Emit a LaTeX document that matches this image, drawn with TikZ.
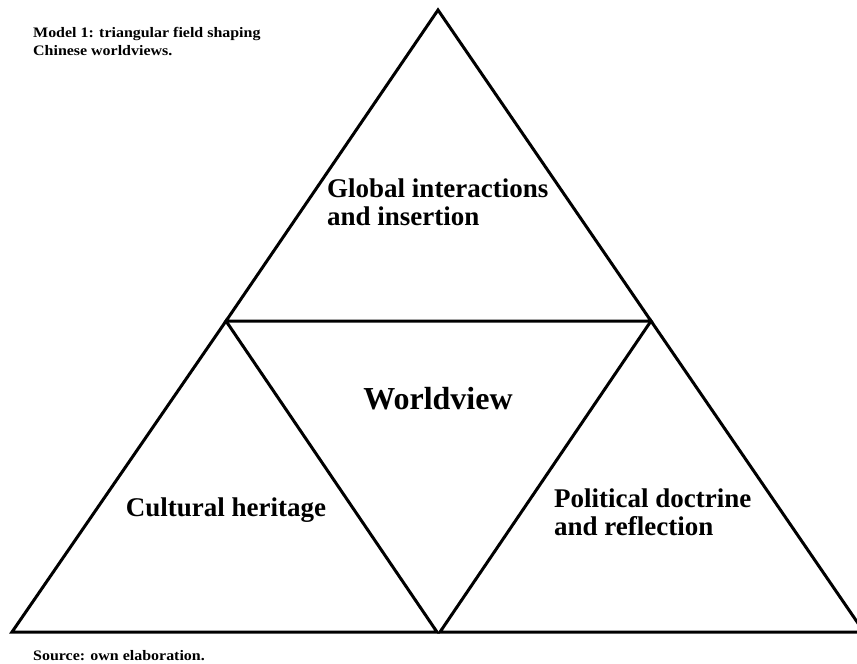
\documentclass[tikz,border=0pt]{standalone}
\usepackage{fontspec}
\setmainfont{Liberation Serif}
\newfontfamily\notefont[FakeStretch=1.1]{Liberation Serif}

\begin{document}
\begin{tikzpicture}[x=1pt,y=-1pt,
  side/.style={line width=3pt,line join=miter},
  field/.style={font=\bfseries\fontsize{27}{28}\selectfont,align=left,inner sep=0pt},
  note/.style={font=\notefont\bfseries\fontsize{14.5}{18}\selectfont,align=left,inner sep=0pt,anchor=base west}]

  \useasboundingbox[fill=white] (0,0) rectangle (857,664);
  \clip (0,0) rectangle (857,664);

  \coordinate (n0) at (438,10);
  \coordinate (n1) at (226,321);
  \coordinate (n2) at (651,321);
  \coordinate (n3) at (12,632);
  \coordinate (n4) at (437,632);
  \coordinate (n5) at (440,632);
  \coordinate (n6) at (864,632);

  \draw[side] (n0) -- (n1) -- (n2) -- cycle;
  \draw[side] (n1) -- (n3) -- (n4) -- cycle;
  \draw[side] (n2) -- (n5) -- (n6) -- cycle;

  % base of a two-line node sits on its last line
  \node[note] (title) at (33,55) {Model 1: triangular field shaping\\Chinese worldviews.};
  \node[note] (source) at (33,660) {Source: own elaboration.};

  \node[field,anchor=base west] (global) at (327,225) {Global interactions\\and insertion};
  \node[field,anchor=base,font=\bfseries\fontsize{32}{34}\selectfont] (world) at (438,409) {Worldview};
  \node[field,anchor=base] (culture) at (226,516) {Cultural heritage};
  \node[field,anchor=base west] (politics) at (554,535) {Political doctrine\\and reflection};
\end{tikzpicture}
\end{document}
